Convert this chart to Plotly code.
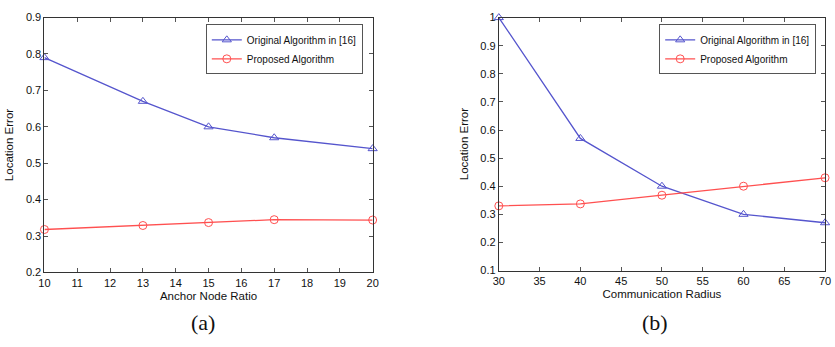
import plotly.graph_objects as go

# Panel (a)
anchor_ratio = [10, 13, 15, 17, 20]
orig_a = [0.79, 0.67, 0.60, 0.57, 0.54]
prop_a = [0.318, 0.329, 0.337, 0.345, 0.344]

# Panel (b)
comm_radius = [30, 40, 50, 60, 70]
orig_b = [1.0, 0.57, 0.40, 0.30, 0.27]
prop_b = [0.330, 0.337, 0.368, 0.400, 0.430]

names = ["Original Algorithm in [16]", "Proposed Algorithm"]
BLUE = "rgb(85,85,205)"
RED = "rgb(255,80,80)"

W, H = 835, 347
fig = go.Figure()

fig.add_trace(go.Scatter(x=anchor_ratio, y=orig_a, name=names[0], mode="lines+markers",
                         line=dict(color=BLUE, width=1.3),
                         marker=dict(symbol="triangle-up-open", size=8, color=BLUE),
                         xaxis="x", yaxis="y", legend="legend", cliponaxis=False))
fig.add_trace(go.Scatter(x=anchor_ratio, y=prop_a, name=names[1], mode="lines+markers",
                         line=dict(color=RED, width=1.3),
                         marker=dict(symbol="circle-open", size=8, color=RED),
                         xaxis="x", yaxis="y", legend="legend", cliponaxis=False))
fig.add_trace(go.Scatter(x=comm_radius, y=orig_b, name=names[0], mode="lines+markers",
                         line=dict(color=BLUE, width=1.3),
                         marker=dict(symbol="triangle-up-open", size=8, color=BLUE),
                         xaxis="x2", yaxis="y2", legend="legend2", cliponaxis=False))
fig.add_trace(go.Scatter(x=comm_radius, y=prop_b, name=names[1], mode="lines+markers",
                         line=dict(color=RED, width=1.3),
                         marker=dict(symbol="circle-open", size=8, color=RED),
                         xaxis="x2", yaxis="y2", legend="legend2", cliponaxis=False))

axis_common = dict(showline=True, linecolor="#333", linewidth=1, mirror="ticks",
                   ticks="inside", ticklen=4, tickcolor="#555", showgrid=False, zeroline=False,
                   ticklabeloverflow="allow",
                   tickfont=dict(family="Arial, Liberation Sans", size=11, color="#111"))
title_font = dict(family="Arial, Liberation Sans", size=11.5, color="#111")

def px(v):
    return v / W

def py(v):
    return 1 - v / H

legend_common = dict(xanchor="right", yanchor="top",
                     bordercolor="#555", borderwidth=1, bgcolor="white", tracegroupgap=0,
                     font=dict(family="Arial, Liberation Sans", size=10, color="#111"),
                     itemwidth=30)

fig.update_layout(
    width=W, height=H, margin=dict(l=0, r=0, t=0, b=0),
    paper_bgcolor="white", plot_bgcolor="white",
    xaxis=dict(domain=[px(39), px(372)], range=[10, 20], dtick=1, anchor="y",
               title=dict(text="Anchor Node Ratio", font=title_font, standoff=4), **axis_common),
    yaxis=dict(domain=[py(276), py(12)], range=[0.2, 0.9], dtick=0.1, anchor="x",
               title=dict(text="Location Error", font=title_font, standoff=9), **axis_common),
    xaxis2=dict(domain=[px(500), px(831)], range=[30, 70], dtick=5, anchor="y2",
                title=dict(text="Communication Radius", font=title_font, standoff=4), **axis_common),
    yaxis2=dict(domain=[py(274), py(12)], range=[0.1, 1.0], dtick=0.1, anchor="x2",
                title=dict(text="Location Error", font=title_font, standoff=9), **axis_common),
    legend=dict(x=px(362), y=py(19), **legend_common),
    legend2=dict(x=px(822), y=py(19), **legend_common),
    showlegend=True,
    annotations=[
        dict(text="(a)", x=px(200), y=py(328), xref="paper", yref="paper", showarrow=False,
             xanchor="center", yanchor="middle",
             font=dict(family="Liberation Serif, Times New Roman", size=22, color="#111")),
        dict(text="(b)", x=px(658), y=py(328), xref="paper", yref="paper", showarrow=False,
             xanchor="center", yanchor="middle",
             font=dict(family="Liberation Serif, Times New Roman", size=22, color="#111")),
    ],
)

fig.write_html("out.html", config={"displayModeBar": False},
               post_script="document.body.style.margin='0';document.body.style.overflow='hidden';")
